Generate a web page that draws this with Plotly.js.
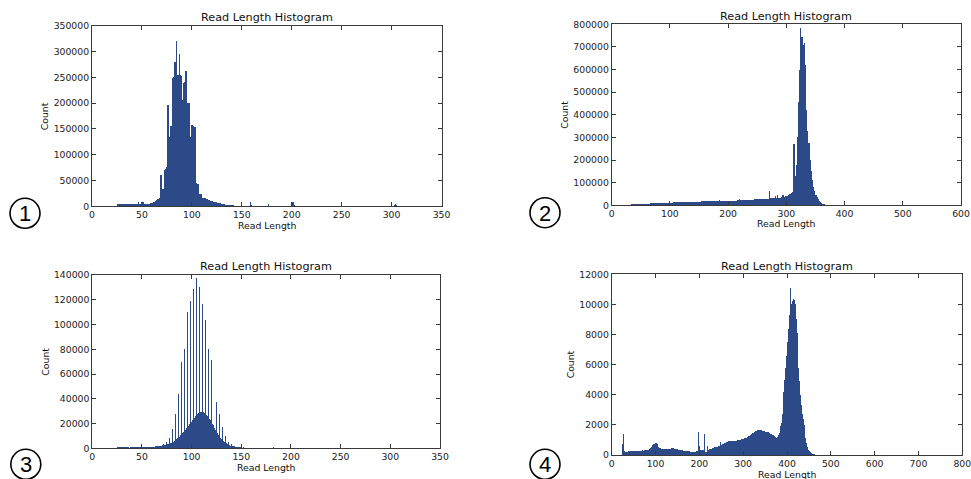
<!DOCTYPE html>
<html>
<head>
<meta charset="utf-8">
<script src="https://cdn.plot.ly/plotly-3.0.1.min.js"></script>
<style>
  html, body { margin: 0; padding: 0; background: #ffffff; }
  #chart { width: 971px; height: 479px; }
</style>
</head>
<body>
<div id="chart"></div>
<script>
// ---------- data (histogram counts per read-length bin) ----------
const chartTitle = "Read Length Histogram";
const xLabel = "Read Length";
const yLabel = "Count";
const panelLabels = ["1", "2", "3", "4"];

// Panel 1: bins of 1 starting at 25
const p1Start = 25, p1Bin = 1;
const p1Counts = [
  5000, 5200, 5100, 4900, 4700, 4600, 4500, 4400, 4300, 4300,
  4200, 4100, 4000, 3900, 3800, 3700, 3600, 3500, 3500, 3600,
  3800, 8000, 4000, 3800, 3900, 7500, 8200, 5000, 4200, 4300,
  4500, 4800, 5200, 5600, 6200, 7000, 7800, 8800, 10500, 13000,
  14500, 15000, 15500, 60700, 60000, 33600, 33000, 70400, 72000, 77000,
  196000, 196000, 135000, 155000, 156000, 249000, 250000, 279000, 280000, 321000,
  254000, 255000, 296000, 254000, 253000, 206000, 238000, 240000, 262000, 262000,
  200000, 200000, 200000, 135000, 157000, 157000, 155000, 154000, 154000, 45800,
  43000, 43000, 24000, 23500, 23000, 17000, 16500, 16000, 15500, 15000,
  14000, 13000, 12000, 11000, 10000, 9500, 9000, 8500, 8000, 7500,
  7000, 6500, 6000, 5500, 5000, 4500, 4000, 3700, 3400, 3100,
  2800, 2500, 2300, 2100, 1900, 1700, 1600, 1500, 1400, 1300,
  1300, 1200, 1200, 1100, 1100, 1000, 1000, 1000, 900, 900,
  900, 1000, 1200, 8000, 2000, 1200, 1000, 900, 900, 900,
  900, 800, 800, 800, 900, 800, 800, 800, 700, 800,
  900, 4000, 1200, 900, 800, 800, 800, 800, 700, 700,
  700, 700, 600, 600, 600, 600, 700, 600, 600, 600,
  600, 600, 700, 800, 2000, 8000, 7500, 3000, 900, 700,
  600, 600, 500, 500, 600, 500, 1500, 800, 500, 500,
  600, 1200, 1500, 800, 500, 400, 400, 400, 400, 400,
  400, 400, 300, 300, 300, 300, 300, 300, 300, 400,
  500, 1500, 500, 300, 300, 300, 200, 200, 200, 200,
  200, 200, 200, 200, 200, 200, 200, 200, 200, 200,
  200, 200, 200, 200, 200, 200, 200, 200, 200, 200,
  200, 200, 200, 200, 300, 300, 300, 400, 500, 800,
  1000, 1000, 1100, 1000, 1000, 1100, 1000, 1000, 1000, 1100,
  1000, 1000, 1100, 1000, 1000, 1000, 1000, 1000, 1100, 1000,
  1000, 800, 600, 500, 500, 500, 1500, 3000, 3500, 2500,
  1500, 800
];

// Panel 2: bins of 2 starting at 24
const p2Start = 24, p2Bin = 2;
const p2Counts = [
  2000, 2500, 3000, 3200, 3500, 3800, 4000, 4300, 4600, 5000,
  5200, 5500, 5800, 6000, 6300, 6500, 6800, 7000, 7200, 7500,
  7800, 8000, 8200, 8500, 8700, 9000, 9200, 9500, 9700, 10000,
  10200, 10400, 10600, 10800, 11000, 11200, 11400, 11600, 11800, 12000,
  12200, 12400, 14000, 12800, 16000, 13000, 13200, 13400, 13600, 13800,
  14000, 14200, 14400, 14600, 14800, 15000, 15200, 15400, 15600, 15800,
  16000, 16200, 16400, 16600, 16800, 17000, 17200, 17400, 17600, 17800,
  18000, 18200, 18400, 18600, 18800, 19000, 19200, 19400, 19600, 21000,
  22000, 18500, 18700, 18900, 19000, 19200, 19400, 19600, 19800, 20000,
  20200, 20400, 20600, 20800, 21000, 21200, 21400, 27000, 21800, 22000,
  22200, 22600, 23000, 23400, 23800, 24200, 24600, 25000, 25400, 25600,
  25800, 26000, 26200, 26400, 26600, 26800, 27000, 27200, 27400, 27600,
  28000, 29000, 30000, 65000, 31000, 31000, 31000, 32000, 42000, 31000,
  44000, 33000, 34000, 36000, 44000, 45000, 38000, 40000, 42000, 45000,
  48000, 52000, 55000, 60000, 270000, 130000, 180000, 300000, 458000, 600000,
  782000, 745000, 710000, 716000, 620000, 421000, 330000, 274000, 200000, 150000,
  110000, 82000, 62000, 46000, 36000, 27000, 19000, 14000, 10000, 7000,
  5000, 3500, 2800, 2200, 1800, 1500, 1200, 1000
];

// Panel 3: bins of 1 starting at 25
const p3Start = 25, p3Bin = 1;
const p3Counts = [
  1000, 900, 800, 800, 700, 800, 700, 800, 900, 700,
  900, 700, 600, 800, 700, 900, 700, 700, 800, 700,
  800, 700, 800, 900, 800, 900, 900, 1000, 900, 1000,
  1000, 1100, 1000, 1100, 1200, 1200, 1300, 1400, 1500, 1600,
  1800, 1700, 1900, 2200, 2000, 2300, 3500, 2600, 2800, 4800,
  3200, 3500, 8600, 4000, 4500, 15600, 5200, 6000, 28000, 7200,
  8000, 43600, 9500, 10500, 70000, 12000, 13000, 80200, 15000, 16000,
  110400, 18000, 19500, 119000, 21500, 23000, 128400, 24500, 26000, 137800,
  27500, 28500, 130600, 29500, 29500, 116600, 29000, 28500, 103700, 27000,
  26000, 80200, 24000, 22500, 71300, 20000, 18500, 49000, 16000, 14500,
  37700, 12000, 10500, 27700, 8500, 7500, 17000, 6000, 5000, 10000,
  4000, 3300, 5400, 2700, 2200, 3300, 1800, 1500, 2000, 1200,
  1000, 1300, 800, 700, 900, 600, 500, 700, 400, 400,
  500, 300, 300, 300, 200, 200, 150, 150, 100, 100,
  100, 100, 80, 80, 60, 60, 50, 50, 40, 40,
  30, 30, 30, 30, 30, 30, 30, 800, 30
];

// Panel 4: bins of 2 starting at 24
const p4Start = 24, p4Bin = 2;
const p4Counts = [
  700, 1400, 250, 220, 230, 380, 230, 240, 250, 260,
  260, 250, 270, 260, 270, 280, 270, 280, 270, 280,
  290, 280, 290, 300, 290, 300, 310, 300, 320, 330,
  350, 380, 450, 550, 650, 700, 750, 780, 760, 800,
  700, 550, 480, 450, 430, 420, 410, 400, 410, 400,
  400, 390, 400, 410, 420, 430, 440, 450, 440, 430,
  420, 400, 380, 370, 350, 340, 320, 310, 300, 290,
  280, 270, 260, 250, 250, 240, 240, 230, 230, 230,
  220, 220, 230, 230, 240, 250, 280, 1530, 600, 330,
  320, 330, 340, 1370, 350, 220, 230, 600, 350, 380,
  400, 420, 440, 460, 480, 500, 520, 540, 560, 580,
  600, 620, 880, 660, 700, 740, 780, 820, 860, 880,
  890, 900, 910, 920, 920, 930, 930, 940, 940, 950,
  960, 970, 980, 990, 1000, 1010, 1030, 1050, 1070, 1100,
  1120, 1150, 1180, 1200, 1230, 1270, 1320, 1380, 1430, 1480,
  1520, 1560, 1590, 1610, 1630, 1640, 1650, 1650, 1640, 1630,
  1620, 1600, 1580, 1560, 1540, 1520, 1500, 1480, 1450, 1420,
  1400, 1360, 1320, 1250, 1180, 1140, 1150, 1200, 1330, 1460,
  1900, 2100, 2700, 3400, 4200, 5000, 5800, 6600, 7500, 8400,
  9300, 11100, 9700, 10000, 10200, 10350, 10300, 10000, 9000, 8100,
  7000, 5800, 4900, 4000, 3300, 2700, 2400, 2000, 1500, 1100,
  800, 500, 330, 250, 180, 120, 90, 70, 50, 40,
  30, 20, 15, 10
];

// ---------- drawing ----------
const FONT = "DejaVu Sans, Verdana, sans-serif";
const BAR = "#2c4a87";
const AX = "#3a3a3a";
const W = 971, H = 479;
const px = v => v / W;
const py = v => 1 - v / H;

function centers(start, bin, counts) {
  return counts.map((_, i) => start + (i + 0.5) * bin);
}
function barTrace(start, bin, counts, xa, ya) {
  return {
    type: "bar",
    x: centers(start, bin, counts),
    y: counts,
    width: bin,
    xaxis: xa, yaxis: ya,
    marker: { color: BAR, line: { width: 0 } },
    hoverinfo: "skip",
    showlegend: false
  };
}

const data = [
  barTrace(p1Start, p1Bin, p1Counts, "x", "y"),
  barTrace(p2Start, p2Bin, p2Counts, "x2", "y2"),
  barTrace(p3Start, p3Bin, p3Counts, "x3", "y3"),
  barTrace(p4Start, p4Bin, p4Counts, "x4", "y4")
];

function axis(domain, anchor, range, dtick) {
  return {
    domain: domain, anchor: anchor, range: range, dtick: dtick, tick0: 0,
    showline: true, linecolor: AX, linewidth: 1, mirror: "ticks",
    ticks: "inside", ticklen: 4, tickwidth: 1, tickcolor: AX,
    showgrid: false, zeroline: false, fixedrange: true,
    tickformat: "d", ticklabeloverflow: "allow",
    tickfont: { family: FONT, size: 9.3, color: "#222" }
  };
}

// plot-area boxes in pixels [left, right, top, bottom]
const boxes = [
  [92, 441.5, 25.7, 206.3],
  [611.7, 961, 24.3, 205.3],
  [92.3, 440, 275, 448.3],
  [611.7, 962.3, 274.3, 455]
];
const xr = [[0, 350], [0, 600], [0, 350], [0, 800]];
const xd = [50, 100, 50, 100];
const yr = [[0, 350000], [0, 800000], [0, 140000], [0, 12000]];
const yd = [50000, 100000, 20000, 2000];

const layout = {
  width: W, height: H,
  margin: { l: 0, r: 0, t: 0, b: 0 },
  paper_bgcolor: "#ffffff", plot_bgcolor: "#ffffff",
  showlegend: false,
  bargap: 0,
  annotations: [], shapes: []
};

const sfx = ["", "2", "3", "4"];
boxes.forEach((b, i) => {
  layout["xaxis" + sfx[i]] = axis([px(b[0]), px(b[1])], "y" + sfx[i], xr[i], xd[i]);
  layout["yaxis" + sfx[i]] = axis([py(b[3]), py(b[2])], "x" + sfx[i], yr[i], yd[i]);
});

// titles, axis labels
const titleY = [17.3, 16.7, 266.7, 266.7];
const xlabY = [225.3, 223.3, 467.3, 474];
const ylabX = [44.3, 565, 46, 570.7];
boxes.forEach((b, i) => {
  const cx = (b[0] + b[1]) / 2, cy = (b[2] + b[3]) / 2;
  layout.annotations.push({
    xref: "paper", yref: "paper", x: px(cx), y: py(titleY[i]),
    xanchor: "center", yanchor: "middle", showarrow: false,
    text: chartTitle, font: { family: FONT, size: 11.2, color: "#111" }
  });
  layout.annotations.push({
    xref: "paper", yref: "paper", x: px(cx), y: py(xlabY[i]),
    xanchor: "center", yanchor: "middle", showarrow: false,
    text: xLabel, font: { family: FONT, size: 9.3, color: "#111" }
  });
  layout.annotations.push({
    xref: "paper", yref: "paper", x: px(ylabX[i]), y: py(cy),
    xanchor: "center", yanchor: "middle", showarrow: false, textangle: -90,
    text: yLabel, font: { family: FONT, size: 9.3, color: "#111" }
  });
});

// circled panel numbers
const circ = [[25, 213.3], [545, 212.7], [25.8, 464.3], [545, 464.3]];
const R = 15;
circ.forEach((c, i) => {
  layout.shapes.push({
    type: "circle", xref: "paper", yref: "paper",
    x0: px(c[0] - R), x1: px(c[0] + R), y0: py(c[1] + R), y1: py(c[1] - R),
    line: { color: "#000", width: 1.6 }, fillcolor: "rgba(0,0,0,0)"
  });
  layout.annotations.push({
    xref: "paper", yref: "paper", x: px(c[0]), y: py(c[1] + 0.5),
    xanchor: "center", yanchor: "middle", showarrow: false,
    text: panelLabels[i], font: { family: "Liberation Sans, Arial, sans-serif", size: 22, color: "#000" }
  });
});

Plotly.newPlot("chart", data, layout, { displayModeBar: false, staticPlot: true });
</script>
</body>
</html>
